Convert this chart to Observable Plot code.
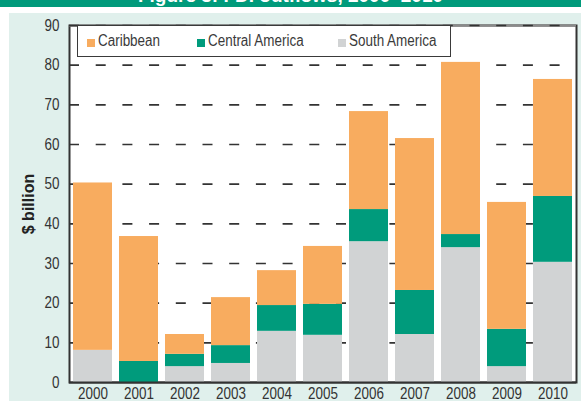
<!DOCTYPE html>
<html>
<head>
<meta charset="utf-8">
<script src="https://cdn.jsdelivr.net/npm/d3@7"></script>
<script src="https://cdn.jsdelivr.net/npm/@observablehq/plot@0.6"></script>
<style>
  html, body { margin: 0; padding: 0; background: #ffffff; }
  #wrap { position: relative; width: 581px; height: 401px; overflow: hidden; font-family: 'Liberation Sans', Arial, sans-serif; }
  #titlebar { position: absolute; left: 0; top: 0; width: 581px; height: 7px; background: #009a7b; overflow: hidden; }
  #titlebar span { position: absolute; left: 0; width: 581px; top: -15px; text-align: center; color: #fff; font: bold 19px 'Liberation Sans', Arial, sans-serif; }
  #panel { position: absolute; left: 9px; top: 13px; width: 572px; height: 388px; background: #e0f0ec; }
  #chart { position: absolute; left: 0; top: 0; }
  #legend { position: absolute; left: 77px; top: 25px; width: 374px; height: 32px; box-sizing: border-box; border: 1.5px solid #3a3a3a; background: #fff; }
  .sw { position: absolute; width: 8px; height: 8px; top: 39px; }
  .lt { position: absolute; top: 31px; font-size: 16px; line-height: 20px; color: #3a3a3a; white-space: nowrap; transform: scaleX(0.84); transform-origin: 0 50%; }
</style>
</head>
<body>
<div id="wrap">
  <div id="titlebar"><span>Figure 3: FDI outflows, 2000–2010</span></div>
  <div id="panel"></div>
  <div id="chart"></div>
  <div id="legend"></div>
</div>
<script>
// ---- data ----
const years = ["2000","2001","2002","2003","2004","2005","2006","2007","2008","2009","2010"];
const southAmerica   = [8.1, 0.0, 4.0, 4.8, 12.9, 11.9, 35.5, 12.1, 34.0, 4.0, 30.3];
const centralAmerica = [0.0, 5.3, 3.1, 4.5, 6.5, 7.8, 8.1, 11.1, 3.3, 9.4, 16.6];
const caribbean      = [42.2, 31.5, 5.0, 12.1, 8.8, 14.6, 24.7, 38.3, 43.4, 32.0, 29.5];
const seriesNames = ["South America", "Central America", "Caribbean"];
const legendOrder = ["Caribbean", "Central America", "South America"];
const seriesColors = ["#d1d3d4", "#009b7c", "#f8ac5f"];
const yTicks = [0, 10, 20, 30, 40, 50, 60, 70, 80, 90];
const gridTicks = [10, 20, 30, 40, 50, 60, 70, 80, 90];

const seriesValues = [southAmerica, centralAmerica, caribbean];
const table = [];
years.forEach((yr, i) => {
  seriesNames.forEach((s, j) => table.push({year: yr, series: s, value: seriesValues[j][i]}));
});

const FONT = "'Liberation Sans', Arial, sans-serif";

const chart = Plot.plot({
  width: 581,
  height: 401,
  marginLeft: 69,
  marginRight: 5,
  marginTop: 25,
  marginBottom: 19,
  style: {background: "transparent", fontFamily: FONT, fontSize: "14px", color: "#333"},
  x: {type: "band", domain: years, paddingInner: 0.15, paddingOuter: 0.075, axis: null},
  y: {domain: [0, 90], axis: null},
  color: {domain: seriesNames, range: seriesColors},
  marks: [
    Plot.frame({fill: "white", stroke: "#333", strokeWidth: 2}),
    Plot.ruleY([90], {stroke: "#8a8a8a", strokeWidth: 2}),
    Plot.ruleY(gridTicks, {stroke: "#333", strokeWidth: 1.6, strokeDasharray: "10,16.7"}),
    Plot.barY(table, {x: "year", y: "value", fill: "series"}),
    Plot.ruleY([0], {stroke: "#333", strokeWidth: 2}),
    Plot.axisY({ticks: yTicks, tickSize: 0, tickPadding: 10, label: null, fontSize: 16}),
    Plot.axisX({tickSize: 0, tickPadding: 5, label: null, fontSize: 16}),
    Plot.text(["$ billion"], {frameAnchor: "left", textAnchor: "middle", text: d => d, rotate: -90, dx: -41,
      fontWeight: "bold", fontSize: 16, fontFamily: FONT, fill: "#222"})
  ]
});
document.getElementById("chart").appendChild(chart);

// narrow the tick labels (reference uses a condensed face)
chart.querySelectorAll('g[aria-label$="tick label"] text').forEach(t => {
  const tr = t.getAttribute("transform") || "";
  t.setAttribute("transform", tr + " scale(0.84,1)");
});

// ---- legend ----
const wrap = document.getElementById("wrap");
const legendX = [87, 197, 338];
legendOrder.forEach((name, k) => {
  const sw = document.createElement("div");
  sw.className = "sw";
  sw.style.left = legendX[k] + "px";
  sw.style.background = seriesColors[seriesNames.indexOf(name)];
  wrap.appendChild(sw);
  const t = document.createElement("div");
  t.className = "lt";
  t.style.left = (legendX[k] + 11) + "px";
  t.textContent = name;
  wrap.appendChild(t);
});
</script>
</body>
</html>
